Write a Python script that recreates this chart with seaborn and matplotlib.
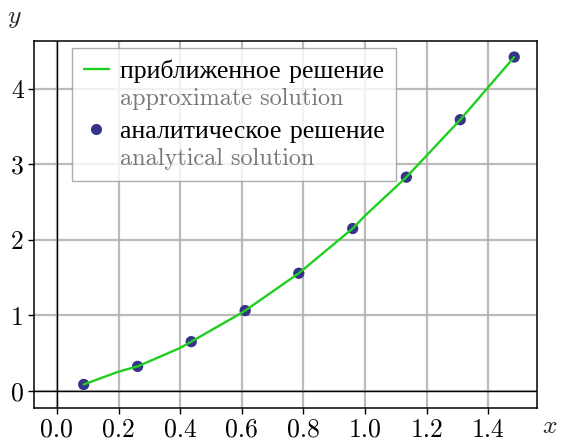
import numpy as np
import pandas as pd
import matplotlib
matplotlib.use("Agg")
import matplotlib.pyplot as plt
import seaborn as sns
from matplotlib.lines import Line2D
from matplotlib.offsetbox import VPacker

# ---- data ----
x_points = [0.087, 0.262, 0.436, 0.611, 0.785, 0.960, 1.134, 1.309, 1.484]
y_analytic = [0.087, 0.326, 0.653, 1.064, 1.558, 2.150, 2.829, 3.589, 4.418]
x_line = [0.087, 0.200, 0.262, 0.400, 0.436, 0.600, 0.611, 0.785, 0.960, 1.000, 1.134, 1.309, 1.484]
y_line = [0.087, 0.256, 0.326, 0.570, 0.653, 1.035, 1.064, 1.558, 2.150, 2.320, 2.829, 3.589, 4.418]
x_ticks = [0.0, 0.2, 0.4, 0.6, 0.8, 1.0, 1.2, 1.4]
y_ticks = [0, 1, 2, 3, 4]
label_line_ru = "приближенное решение"
label_line_en = "approximate solution"
label_pts_ru = "аналитическое решение"
label_pts_en = "analytical solution"

sns.set_theme(style="white")
plt.rcParams["font.family"] = ["cmr10", "Liberation Serif"]
plt.rcParams["mathtext.fontset"] = "cm"
plt.rcParams["axes.formatter.use_mathtext"] = True
plt.rcParams["axes.unicode_minus"] = False

FS = 18.5
LINE_C = "#1fcf1f"
PT_C = "#35338a"

fig = plt.figure(figsize=(5.68, 4.43), dpi=100)
ax = fig.add_axes([34 / 568, 1 - 407.7 / 443, (537 - 34) / 568, (407.7 - 41) / 443])

df_pts = pd.DataFrame({"x": x_points, "y": y_analytic})
df_line = pd.DataFrame({"x": x_line, "y": y_line})

sns.scatterplot(data=df_pts, x="x", y="y", ax=ax, color=PT_C, s=66,
                edgecolor="none", zorder=3, legend=False)
sns.lineplot(data=df_line, x="x", y="y", ax=ax, color=LINE_C, lw=1.7,
             zorder=4, legend=False, sort=False)

ax.axhline(0, color="black", lw=1.0, zorder=2)
ax.axvline(0, color="black", lw=1.0, zorder=2)

ax.set_xlim(-0.0742, 1.558)
ax.set_ylim(-0.2205, 4.63)
ax.set_xticks(x_ticks)
ax.set_yticks(y_ticks)
ax.set_xticklabels([f"{v:.1f}" for v in x_ticks])
ax.set_yticklabels([f"{v:d}" for v in y_ticks])
ax.grid(True, color="#b0b0b0", lw=1.6, alpha=0.85, zorder=0)
ax.set_axisbelow(True)
for s in ax.spines.values():
    s.set_color("black")
    s.set_linewidth(1.1)
ax.tick_params(axis="both", which="both", direction="out", length=4, width=1.0,
               color="black", labelsize=FS, labelcolor="black", pad=3.5,
               bottom=True, left=True)
ax.set_xlabel("")
ax.set_ylabel("")

ax.text((550 - 34) / 503, (407.7 - 426) / 366.7, r"$x$", transform=ax.transAxes,
        fontsize=FS, ha="center", va="center")
ax.text((14 - 34) / 503, (407.7 - 18) / 366.7, r"$y$", transform=ax.transAxes,
        fontsize=FS, ha="center", va="center")

# legend
h_line = Line2D([], [], color=LINE_C, lw=1.7)
h_pt = Line2D([], [], color=PT_C, marker="o", ls="none", markersize=8,
              markeredgewidth=0)
h_blank = Line2D([], [], color="none", ls="none")
leg = ax.legend([h_line, h_blank, h_pt, h_blank],
                [label_line_ru, label_line_en, label_pts_ru, label_pts_en],
                loc="upper left", bbox_to_anchor=(72 / 568, 1 - 48 / 443),
                bbox_transform=fig.transFigure, borderaxespad=0,
                fontsize=FS, frameon=True, fancybox=False, framealpha=0.8,
                edgecolor="#999999", handlelength=1.0, handletextpad=0.4,
                borderpad=0.45, labelspacing=0.3)
leg.get_frame().set_linewidth(1.0)
for i, t in enumerate(leg.get_texts()):
    if i % 2 == 0:
        t.set_color("black")
    else:
        t.set_color("#777777")
        t.set_fontsize(17.4)
leg.set_zorder(5)

try:
    col = leg._legend_handle_box.get_children()[0]
    rows = list(col.get_children())
    g1 = VPacker(pad=0, sep=0.14 * FS, align="baseline", children=rows[:2])
    g2 = VPacker(pad=0, sep=0.14 * FS, align="baseline", children=rows[2:])
    col._children = [g1, g2]
    col.sep = 0.37 * FS
except Exception:
    pass

fig.savefig("out.png", dpi=100)
